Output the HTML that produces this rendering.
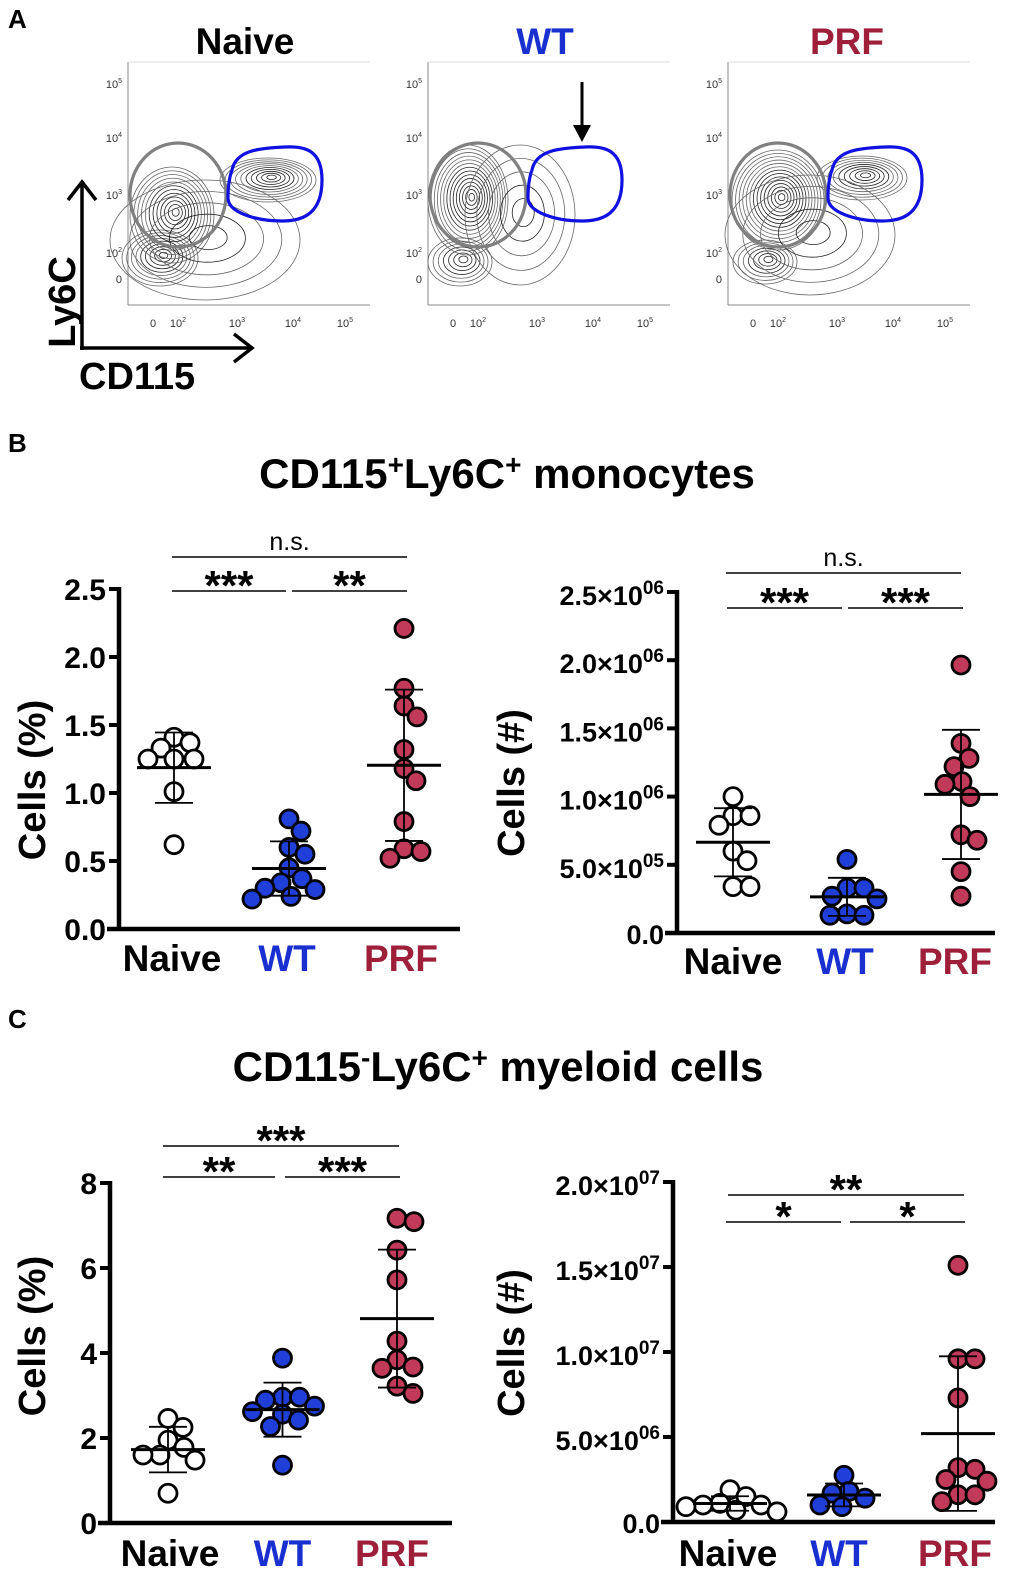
<!DOCTYPE html>
<html><head><meta charset="utf-8"><style>
html,body{margin:0;padding:0;background:#fff;}
svg{display:block;font-family:"Liberation Sans",Arial,sans-serif;}
</style></head><body>
<svg id="fig" width="1022" height="1576" viewBox="0 0 1022 1576" xmlns="http://www.w3.org/2000/svg">
<g>
<text x="8" y="28" font-size="26" font-weight="bold">A</text>
<text x="245" y="54" font-size="37" font-weight="bold" text-anchor="middle">Naive</text>
<text x="545" y="54" font-size="37" font-weight="bold" text-anchor="middle" fill="#1a2fd0">WT</text>
<text x="847" y="54" font-size="37" font-weight="bold" text-anchor="middle" fill="#9e1f3a">PRF</text>
<g id="flows"></g>
<line x1="82" y1="350" x2="82" y2="185" stroke="#000" stroke-width="3.5"/>
<polyline points="68,200 82,182 96,200" fill="none" stroke="#000" stroke-width="3.5"/>
<line x1="80" y1="348" x2="250" y2="348" stroke="#000" stroke-width="3.5"/>
<polyline points="234,334 252,348 234,362" fill="none" stroke="#000" stroke-width="3.5"/>
<text transform="translate(75,302) rotate(-90)" font-size="38" font-weight="bold" text-anchor="middle">Ly6C</text>
<text x="79" y="389" font-size="38" font-weight="bold">CD115</text>
<line x1="582" y1="82" x2="582" y2="135" stroke="#000" stroke-width="3"/>
<polygon points="573,125 582,142 591,125" fill="#000"/>
</g>
<text x="8" y="452" font-size="26" font-weight="bold">B</text>
<text x="507" y="488" font-size="42" font-weight="bold" text-anchor="middle">CD115<tspan font-size="28" dy="-14">+</tspan><tspan dy="14">Ly6C</tspan><tspan font-size="28" dy="-14">+</tspan><tspan dy="14"> monocytes</tspan></text>
<text x="8" y="1028" font-size="26" font-weight="bold">C</text>
<text x="498" y="1081" font-size="42" font-weight="bold" text-anchor="middle">CD115<tspan font-size="28" dy="-14">-</tspan><tspan dy="14">Ly6C</tspan><tspan font-size="28" dy="-14">+</tspan><tspan dy="14"> myeloid cells</tspan></text>
<g id="charts"></g>
</svg>
<script>
const categories = ['Naive', 'WT', 'PRF'];
// Panel B left: % cells
const bPctNaive = [1.41, 1.37, 1.33, 1.25, 1.25, 1.25, 1.01, 0.62];
const bPctWT = [0.81, 0.72, 0.60, 0.55, 0.45, 0.37, 0.34, 0.30, 0.29, 0.24, 0.22];
const bPctPRF = [2.21, 1.77, 1.64, 1.56, 1.32, 1.18, 1.09, 0.79, 0.59, 0.57, 0.52];
const bPctTicks = [0, 0.5, 1.0, 1.5, 2.0, 2.5];
const bPctTickLabels = ['0.0', '0.5', '1.0', '1.5', '2.0', '2.5'];
// Panel B right: cell numbers (x1e6)
const bNumNaive = [1.00, 0.86, 0.86, 0.79, 0.60, 0.53, 0.34, 0.34];
const bNumWT = [0.54, 0.33, 0.33, 0.27, 0.25, 0.14, 0.13, 0.13];
const bNumPRF = [1.965, 1.39, 1.28, 1.22, 1.11, 1.09, 1.00, 0.72, 0.68, 0.45, 0.27];
const bNumTicks = [0, 0.5, 1.0, 1.5, 2.0, 2.5];
const bNumTickLabels = ['0.0', '5.0×10^05', '1.0×10^06', '1.5×10^06', '2.0×10^06', '2.5×10^06'];
// Panel C left: % cells
const cPctNaive = [2.46, 2.25, 1.95, 1.78, 1.60, 1.60, 1.48, 0.70];
const cPctWT = [3.88, 2.96, 2.96, 2.89, 2.75, 2.62, 2.56, 2.42, 2.27, 1.36];
const cPctPRF = [7.17, 7.09, 6.42, 5.72, 4.28, 3.84, 3.67, 3.64, 3.22, 3.05];
const cPctTicks = [0, 2, 4, 6, 8];
const cPctTickLabels = ['0', '2', '4', '6', '8'];
// Panel C right: cell numbers (x1e6)
const cNumNaive = [1.9, 1.5, 1.1, 1.0, 1.0, 0.9, 0.7, 0.6];
const cNumWT = [2.75, 1.8, 1.7, 1.4, 1.0, 0.9];
const cNumPRF = [15.1, 9.6, 9.6, 7.3, 3.2, 3.1, 2.5, 2.4, 1.6, 1.6, 1.2];
const cNumTicks = [0, 5, 10, 15, 20];
const cNumTickLabels = ['0.0', '5.0×10^06', '1.0×10^07', '1.5×10^07', '2.0×10^07'];

const NS = 'http://www.w3.org/2000/svg';
const catColors = ['#ffffff', '#1f3fd8', '#c23a5a'];
const labelColors = ['#000', '#1a2fd0', '#9e1f3a'];
function mk(tag, attrs, parent) {
  const e = document.createElementNS(NS, tag);
  for (const k in attrs) e.setAttribute(k, attrs[k]);
  parent.appendChild(e);
  return e;
}
function mean(a) { return a.reduce((s, v) => s + v, 0) / a.length; }
function sd(a) { const m = mean(a); return Math.sqrt(a.reduce((s, v) => s + (v - m) * (v - m), 0) / (a.length - 1)); }

function drawChart(cfg, groups, ticks, tickLabels) {
  const root = document.getElementById('charts');
  const g = mk('g', {}, root);
  
  
  const yS = v => cfg.y0 - (v - 0) / cfg.max * (cfg.y0 - cfg.yTop);
  const xS = i => cfg.cx0 + i * cfg.cstep;
  const ya = mk('line', {x1: cfg.ax, y1: cfg.yTop - 2, x2: cfg.ax, y2: cfg.y0 + 2, stroke: '#000', 'stroke-width': 4.5}, g);
  
  
  const xa = mk('line', {x1: cfg.ax - 12, y1: cfg.y0, x2: cfg.xEnd, y2: cfg.y0, stroke: '#000', 'stroke-width': 4.5}, g);
  
  
  ticks.forEach((t, i) => {
    const y = yS(t);
    const tk = mk('line', {x1: cfg.ax - 10, y1: y, x2: cfg.ax, y2: y, stroke: '#000', 'stroke-width': 4}, g);
    
    
    const lab = tickLabels[i];
    const tx = mk('text', {x: cfg.ax - 13, y: y + 11, 'font-size': cfg.tfs, 'font-weight': 'bold', 'text-anchor': 'end'}, g);
    
    
    if (lab.indexOf('^') >= 0) {
      const p = lab.split('^');
      const a = mk('tspan', {}, tx); a.textContent = p[0];
      const b = mk('tspan', {'font-size': 19, dy: -11}, tx); b.textContent = p[1];
      tx.setAttribute('y', y + 13);
    } else tx.textContent = lab;
  });
  const yt = mk('text', {transform: `translate(${cfg.ytx},${cfg.yty}) rotate(-90)`, 'font-size': 38, 'font-weight': 'bold', 'text-anchor': 'middle'}, g);
  yt.textContent = cfg.ytitle;
  
  
  categories.forEach((c, i) => {
    const t = mk('text', {x: xS(i) + (cfg.lblOff ? cfg.lblOff[i] : 0), y: cfg.xly, 'font-size': 37, 'font-weight': 'bold', 'text-anchor': 'middle', fill: labelColors[i]}, g);
    t.textContent = c;
    
    
  });
  const r = 9;
  groups.forEach((vals, i) => {
    const cx = xS(i);
    const placed = [];
    const sorted = vals.slice().sort((a, b) => b - a);
    sorted.forEach(v => {
      const y = yS(v);
      let best = 0;
      for (let d = 0; d < 200; d++) {
        let found = false;
        for (const s of (d === 0 ? [0] : [d, -d])) {
          const ok = placed.every(p => Math.hypot(p[0] - (cx + s), p[1] - y) >= 1.85 * r);
          if (ok) { best = s; found = true; break; }
        }
        if (found) break;
      }
      placed.push([cx + best, y]);
      const c = mk('circle', {cx: cx + best, cy: y, r: r, fill: catColors[i], stroke: '#000', 'stroke-width': 2.8}, g);
      
      
    });
    const m = mean(vals), s = sd(vals);
    const ym = yS(m), yh = yS(m + s), yl = yS(Math.max(0, m - s));
    const vl = mk('line', {x1: cx, y1: yh, x2: cx, y2: yl, stroke: '#000', 'stroke-width': 1.8}, g);
    
    
    [yh, yl].forEach(yy => {
      const cap = mk('line', {x1: cx - 19, y1: yy, x2: cx + 19, y2: yy, stroke: '#000', 'stroke-width': 1.8}, g);
      
      
    });
    const ml = mk('line', {x1: cx - 37, y1: ym, x2: cx + 37, y2: ym, stroke: '#000', 'stroke-width': 3}, g);
    
    
  });
  cfg.sig.forEach(s => {
    const l = mk('line', {x1: s[0], y1: s[2], x2: s[1], y2: s[2], stroke: '#000', 'stroke-width': 1.6}, g);
    
    
    const ns = s[3] === 'n.s.';
    const t = mk('text', {x: (s[0] + s[1]) / 2, y: s[2] - (ns ? 7 : -9), 'font-size': ns ? 25 : 42, 'font-weight': ns ? 'normal' : 'bold', 'text-anchor': 'middle'}, g);
    t.textContent = s[3];
    
    
  });
}

drawChart({name: 'chart-b-percent', ax: 119, y0: 929, yTop: 589, max: 2.5, cx0: 174, cstep: 115, xEnd: 460, tfs: 30, ytitle: 'Cells (%)', ytx: 45, yty: 780, xly: 971, lblOff: [-2, -2, -3],
  sig: [[172, 407, 557, 'n.s.'], [172, 286, 591, '***'], [292, 407, 591, '**']]},
  [bPctNaive, bPctWT, bPctPRF], bPctTicks, bPctTickLabels);
drawChart({name: 'chart-b-number', ax: 677, y0: 933, yTop: 592, max: 2.5, cx0: 733, cstep: 114, xEnd: 995, tfs: 27, ytitle: 'Cells (#)', ytx: 524, yty: 783, xly: 974, lblOff: [0, -2, -6],
  sig: [[726, 961, 573, 'n.s.'], [727, 842, 608, '***'], [848, 963, 608, '***']]},
  [bNumNaive, bNumWT, bNumPRF], bNumTicks, bNumTickLabels);
drawChart({name: 'chart-c-percent', ax: 110, y0: 1523, yTop: 1183, max: 8, cx0: 168, cstep: 114.5, xEnd: 452, tfs: 30, ytitle: 'Cells (%)', ytx: 45, yty: 1336, xly: 1566, lblOff: [2, 0, -5],
  sig: [[163, 399, 1146, '***'], [163, 275, 1177, '**'], [285, 400, 1177, '***']]},
  [cPctNaive, cPctWT, cPctPRF], cPctTicks, cPctTickLabels);
drawChart({name: 'chart-c-number', ax: 673, y0: 1522, yTop: 1182, max: 20, cx0: 730, cstep: 114, xEnd: 995, tfs: 27, ytitle: 'Cells (#)', ytx: 524, yty: 1343, xly: 1566, lblOff: [-2, -5, -3],
  sig: [[728, 964, 1195, '**'], [726, 841, 1222, '*'], [850, 965, 1222, '*']]},
  [cNumNaive, cNumWT, cNumPRF], cNumTicks, cNumTickLabels);

(function () {
  const root = document.getElementById('flows');
  const offsets = [0, 300, 600];
  const names = ['naive', 'wt', 'prf'];
  const xt = [['0', 153], ['10^2', 178], ['10^3', 237], ['10^4', 293], ['10^5', 345]];
  const yt = [['10^5', 84], ['10^4', 138], ['10^3', 195], ['10^2', 253], ['0', 279]];
  offsets.forEach((o, k) => {
    const g = mk('g', {transform: `translate(${o},0)`}, root);
    
    
    const fr = mk('path', {d: 'M128,305 L128,62 M128,305 L370,305', stroke: '#888', 'stroke-width': 1, fill: 'none'}, g);
    
    
    mk('line', {x1: 128, y1: 62, x2: 370, y2: 62, stroke: '#ddd', 'stroke-width': 1}, g);
    xt.forEach(t => {
      const tx = mk('text', {x: t[1], y: 327, 'font-size': 11, 'text-anchor': 'middle', fill: '#333'}, g);
      const p = t[0].split('^');
      const a = mk('tspan', {}, tx); a.textContent = p[0];
      if (p[1]) { const b = mk('tspan', {'font-size': 7, dy: -5}, tx); b.textContent = p[1]; }
      
      
    });
    yt.forEach(t => {
      const tx = mk('text', {x: 122, y: t[1] + 4, 'font-size': 11, 'text-anchor': 'end', fill: '#333'}, g);
      const p = t[0].split('^');
      const a = mk('tspan', {}, tx); a.textContent = p[0];
      if (p[1]) { const b = mk('tspan', {'font-size': 7, dy: -5}, tx); b.textContent = p[1]; }
      
      
    });
    const blobs = k === 0 ? [[160, 258, 38, 28, 9], [172, 215, 42, 48, 12], [268, 180, 48, 22, 10], [205, 240, 95, 60, 5]]
      : k === 1 ? [[160, 262, 32, 24, 7], [168, 200, 40, 55, 14], [220, 215, 55, 70, 5]]
      : [[165, 262, 32, 22, 7], [178, 200, 46, 50, 14], [262, 178, 45, 22, 9], [210, 235, 85, 60, 5]];
    blobs.forEach(b => {
      for (let j = 1; j <= b[4]; j++) {
        const f = j / b[4];
        mk('ellipse', {cx: b[0] + (1 - f) * 4, cy: b[1] - (1 - f) * 3, rx: b[2] * f, ry: b[3] * f, fill: 'none', stroke: f < 0.6 ? '#222' : '#666', 'stroke-width': 0.8}, g);
      }
    });
    const gg = mk('ellipse', {cx: 178, cy: 195, rx: 48, ry: 52, fill: 'none', stroke: '#808080', 'stroke-width': 3.2}, g);
    
    
    const bg = mk('path', {d: 'M232,170 C236,150 260,148 285,147 C305,146 322,150 322,180 C322,212 305,221 282,221 C255,221 228,212 228,198 C228,188 229,178 232,170 Z', fill: 'none', stroke: '#1010e0', 'stroke-width': 3.2}, g);
    
    
  });
})();
</script>
</body></html>
